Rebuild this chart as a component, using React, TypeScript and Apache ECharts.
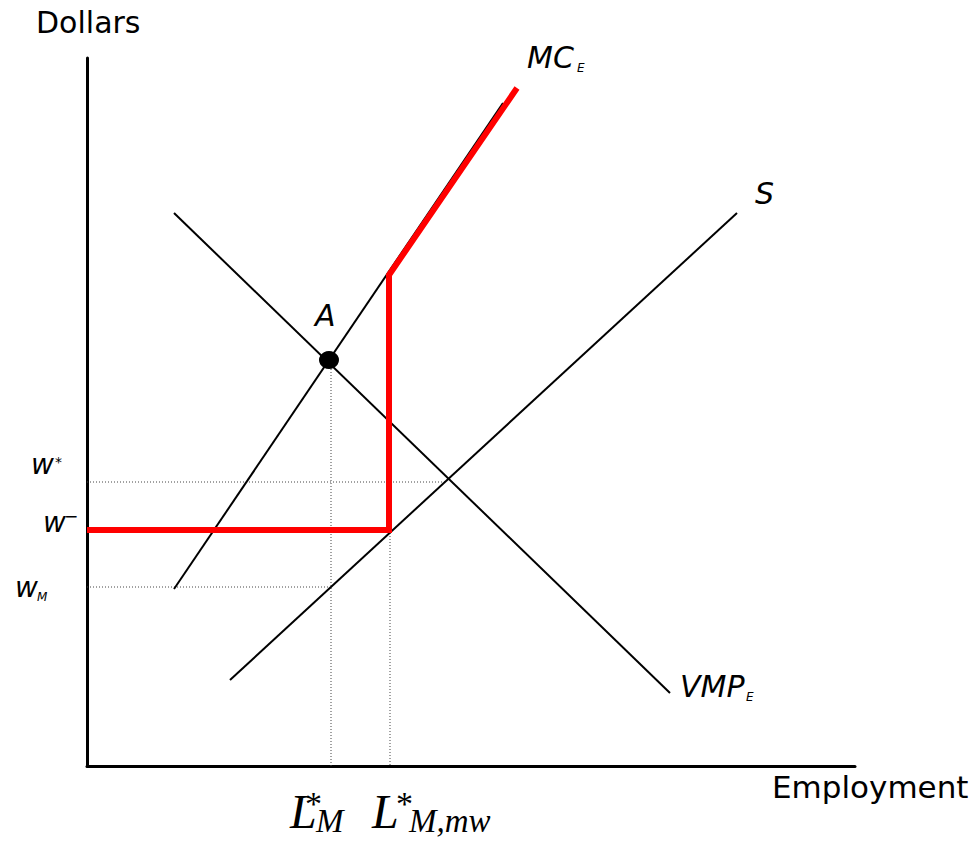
import React, { useEffect, useRef } from "react";
import * as echarts from "echarts";

// Data coordinates: x = employment units, y = dollar units (axis origin at 0,0)
const vmpLine = [[87, 553], [583, 73]];
const supplyLine = [[143, 86], [650, 553]];
const mcLine = [[87, 177], [416, 663]];
const minWagePath = [[0, 236], [302, 236], [302, 491], [430, 678]];
const wStarGuide = [[0, 284], [359, 284]];
const wMGuide = [[0, 179], [243, 179]];
const lmGuide = [[244, 406], [244, 0]];
const lmwGuide = [[303, 236], [303, 0]];
const pointA = [[242, 406]];

const X_MAX = 768;
const Y_MAX = 708;

const sans = "'DejaVu Sans', Verdana, sans-serif";
const serif = "'Liberation Serif', 'DejaVu Serif', serif";

function txt(text: string, x: number, y: number, size: number, opts: any = {}) {
  const font = `${opts.italic ? "italic " : ""}${size}px ${opts.family || sans}`;
  return {
    type: "text",
    x,
    y,
    z: 100,
    style: {
      text,
      font,
      fill: "#000",
      textAlign: "left",
      textVerticalAlign: "middle",
      align: "left",
      verticalAlign: "middle",
    },
  };
}

export default function App() {
  const ref = useRef<HTMLDivElement>(null);
  useEffect(() => {
    if (!ref.current) return;
    const chart = echarts.init(ref.current, undefined, { renderer: "svg" });
    const black = { color: "#000", width: 2 };
    const dotted = { color: "#444", width: 1, type: [1, 2] as any };
    chart.setOption({
      animation: false,
      backgroundColor: "#fff",
      grid: { left: 87, top: 58, right: 124, bottom: 75, containLabel: false },
      xAxis: {
        type: "value",
        min: 0,
        max: X_MAX,
        axisLine: { show: true, onZero: false, lineStyle: { color: "#000", width: 3 } },
        axisTick: { show: false },
        axisLabel: { show: false },
        splitLine: { show: false },
      },
      yAxis: {
        type: "value",
        min: 0,
        max: Y_MAX,
        axisLine: { show: true, onZero: false, lineStyle: { color: "#000", width: 3 } },
        axisTick: { show: false },
        axisLabel: { show: false },
        splitLine: { show: false },
      },
      series: [
        { type: "line", data: vmpLine, symbol: "none", lineStyle: black, z: 2 },
        { type: "line", data: supplyLine, symbol: "none", lineStyle: black, z: 2 },
        { type: "line", data: mcLine, symbol: "none", lineStyle: black, z: 2 },
        { type: "line", data: wStarGuide, symbol: "none", lineStyle: dotted, z: 1 },
        { type: "line", data: wMGuide, symbol: "none", lineStyle: dotted, z: 1 },
        { type: "line", data: lmGuide, symbol: "none", lineStyle: dotted, z: 1 },
        { type: "line", data: lmwGuide, symbol: "none", lineStyle: dotted, z: 1 },
        {
          type: "line",
          data: minWagePath,
          symbol: "none",
          lineStyle: { color: "#ff0000", width: 6, cap: "butt", join: "miter" },
          z: 5,
        },
        {
          type: "scatter",
          data: pointA,
          symbol: "circle",
          symbolSize: [20, 18],
          itemStyle: { color: "#000", opacity: 1 },
          z: 10,
        },
      ],
      graphic: [
        txt("Dollars", 36, 22, 30),
        txt("Employment", 772, 787, 31),
        txt("MC", 527, 57, 30, { italic: true }),
        txt("E", 577, 68, 12, { italic: true }),
        txt("S", 755, 193, 30, { italic: true }),
        txt("A", 315, 315, 30, { italic: true }),
        txt("VMP", 680, 686, 30, { italic: true }),
        txt("E", 746, 697, 12, { italic: true }),
        txt("w", 31, 464, 28, { italic: true }),
        txt("*", 55, 462, 14, { italic: true }),
        txt("w", 43, 522, 28, { italic: true }),
        txt("−", 64, 516, 17),
        txt("w", 15, 587, 28, { italic: true }),
        txt("M", 37, 597, 12, { italic: true }),
        txt("L", 290, 811, 48, { italic: true, family: serif }),
        txt("*", 305, 803, 34, { family: serif }),
        txt("M", 316, 821, 33, { italic: true, family: serif }),
        txt("L", 372, 811, 48, { italic: true, family: serif }),
        txt("*", 396, 803, 34, { family: serif }),
        txt("M,mw", 409, 821, 33, { italic: true, family: serif }),
      ],
    });
    return () => chart.dispose();
  }, []);
  return (
    <div
      ref={ref}
      style={{ position: "absolute", left: 0, top: 0, width: 979, height: 841, background: "#fff" }}
    />
  );
}
